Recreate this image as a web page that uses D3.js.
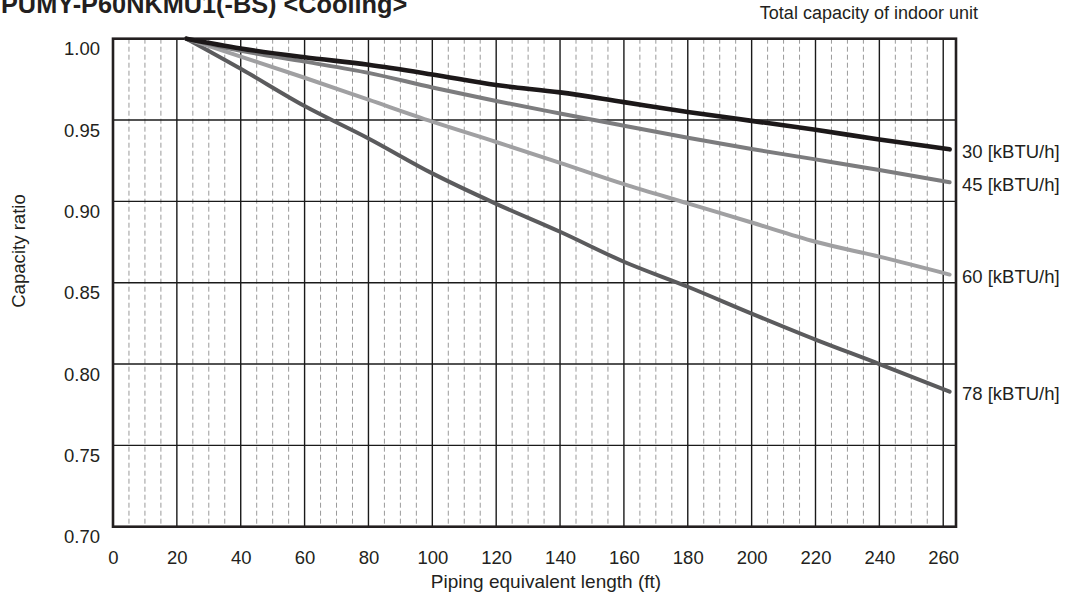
<!DOCTYPE html>
<html>
<head>
<meta charset="utf-8">
<script src="https://cdn.jsdelivr.net/npm/d3@7"></script>
<style>
  html, body { margin: 0; padding: 0; background: #fff; }
  svg { display: block; font-family: "Liberation Sans", Arial, sans-serif; }
</style>
</head>
<body>
<svg id="chart" width="1068" height="596"></svg>
<script>
// ---- data ----
const lengths = [23, 40, 60, 80, 100, 120, 140, 160, 180, 200, 220, 240, 262];
const cap30 = [1.0, 0.994, 0.9886, 0.984, 0.978, 0.9715, 0.967, 0.961, 0.955, 0.9495, 0.944, 0.938, 0.932];
const cap45 = [1.0, 0.9926, 0.9859, 0.979, 0.970, 0.9617, 0.954, 0.9465, 0.9391, 0.9322, 0.9258, 0.9193, 0.9117];
const cap60 = [1.0, 0.989, 0.976, 0.9625, 0.949, 0.9365, 0.9237, 0.9106, 0.8988, 0.887, 0.8752, 0.866, 0.855];
const cap78 = [1.0, 0.9815, 0.9586, 0.9387, 0.9172, 0.8985, 0.8813, 0.8629, 0.8475, 0.831, 0.815, 0.800, 0.783];
const seriesNames = ["78 [kBTU/h]", "60 [kBTU/h]", "45 [kBTU/h]", "30 [kBTU/h]"];
const xTicks = [0, 20, 40, 60, 80, 100, 120, 140, 160, 180, 200, 220, 240, 260];
const xMinorTicks = d3.range(5, 264, 5).filter(v => v % 20 !== 0);
const yTicks = [0.70, 0.75, 0.80, 0.85, 0.90, 0.95, 1.00];
const titleText = "PUMY-P60NKMU1(-BS) <Cooling>";
const legendTitle = "Total capacity of indoor unit";
const xTitle = "Piping equivalent length (ft)";
const yTitle = "Capacity ratio";

// ---- styles ----
const seriesValues = [cap78, cap60, cap45, cap30];
const seriesColors = ["#5b5b5d", "#a0a0a2", "#7c7c7e", "#1c1819"];
const seriesWidths = [4, 4, 4, 4.6];

const svg = d3.select("#chart");
const x = d3.scaleLinear().domain([0, 264]).range([113, 956]);
const y = d3.scaleLinear().domain([0.70, 1.00]).range([526.7, 38.7]);

const grid = svg.append("g");
// minor dashed verticals
grid.selectAll("line.minor").data(xMinorTicks).enter().append("line")
  .attr("x1", d => x(d)).attr("x2", d => x(d))
  .attr("y1", y(1.0)).attr("y2", y(0.70))
  .attr("stroke", "#9a9a9a").attr("stroke-width", 1)
  .attr("stroke-dasharray", "5,3");
// major verticals
grid.selectAll("line.vmaj").data(xTicks.filter(d => d > 0)).enter().append("line")
  .attr("x1", d => x(d)).attr("x2", d => x(d))
  .attr("y1", y(1.0)).attr("y2", y(0.70))
  .attr("stroke", "#1a1a1a").attr("stroke-width", 1.4);
// major horizontals
grid.selectAll("line.hmaj").data(yTicks.filter(d => d > 0.7 && d < 1.0)).enter().append("line")
  .attr("x1", x(0)).attr("x2", x(264))
  .attr("y1", d => y(d)).attr("y2", d => y(d))
  .attr("stroke", "#1a1a1a").attr("stroke-width", 1.4);
// frame
svg.append("rect")
  .attr("x", x(0)).attr("y", y(1.0))
  .attr("width", x(264) - x(0)).attr("height", y(0.70) - y(1.0))
  .attr("fill", "none").attr("stroke", "#231f20").attr("stroke-width", 2.6);

// lines
const line = d3.line().x(d => x(d[0])).y(d => y(d[1])).curve(d3.curveMonotoneX);
seriesValues.forEach((vals, i) => {
  const pts = lengths.map((l, j) => [l, vals[j]]);
  svg.append("path").datum(pts)
    .attr("d", line)
    .attr("fill", "none")
    .attr("stroke", seriesColors[i])
    .attr("stroke-width", seriesWidths[i])
    .attr("stroke-linecap", "round")
    .attr("stroke-linejoin", "round");
  svg.append("text")
    .attr("x", 962)
    .attr("y", y(vals[vals.length - 1]) + 2)
    .attr("dy", "0.35em")
    .attr("font-size", 18.5)
    .attr("fill", "#231f20")
    .text(seriesNames[i]);
});

// x axis labels
const xAxis = d3.axisBottom(x).tickValues(xTicks).tickSize(0).tickPadding(0).tickFormat(d3.format("d"));
const gx = svg.append("g").attr("transform", `translate(0,${y(0.70)})`).call(xAxis);
gx.select(".domain").remove();
gx.selectAll("text").attr("dy", null).attr("y", 37.3)
  .attr("font-size", 18.5).attr("font-family", "Liberation Sans, Arial, sans-serif").attr("fill", "#231f20");

// y axis labels
const yAxis = d3.axisLeft(y).tickValues(yTicks).tickSize(0).tickPadding(13).tickFormat(d3.format(".2f"));
const gy = svg.append("g").attr("transform", `translate(${x(0)},0)`).call(yAxis);
gy.select(".domain").remove();
gy.selectAll("text").attr("dy", "0.35em").attr("transform", "translate(0,9.5)")
  .attr("font-size", 18.5).attr("font-family", "Liberation Sans, Arial, sans-serif").attr("fill", "#231f20");

// titles
svg.append("text").attr("x", 1).attr("y", 12.5)
  .attr("font-size", 25.3).attr("font-weight", "bold").attr("fill", "#231f20")
  .text(titleText);
svg.append("text").attr("x", 978).attr("y", 18.5).attr("text-anchor", "end")
  .attr("font-size", 18).attr("fill", "#231f20").text(legendTitle);
svg.append("text").attr("x", 546).attr("y", 588).attr("text-anchor", "middle")
  .attr("font-size", 19).attr("fill", "#231f20").text(xTitle);
svg.append("text").attr("transform", "translate(25,251) rotate(-90)").attr("text-anchor", "middle")
  .attr("font-size", 18.6).attr("fill", "#231f20").text(yTitle);
</script>
</body>
</html>
